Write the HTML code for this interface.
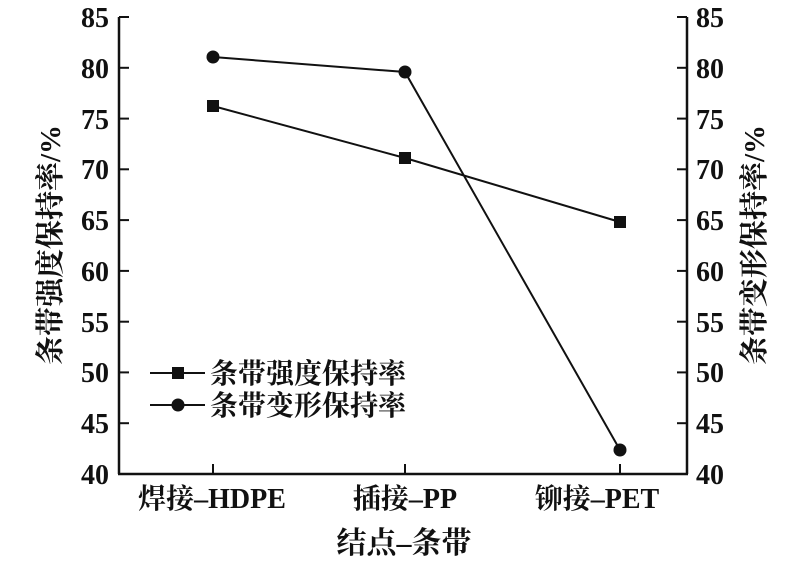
<!DOCTYPE html>
<html><head><meta charset="utf-8"><style>
body{margin:0;background:#fff}
svg text{font-family:"Liberation Serif","Noto Serif CJK SC",serif;fill:#111}
</style></head><body>
<svg width="792" height="566" viewBox="0 0 792 566" xmlns="http://www.w3.org/2000/svg">
<g stroke="#111" stroke-width="2.5" fill="none">
<line x1="119" y1="17" x2="119" y2="474"/>
<line x1="687" y1="17" x2="687" y2="474"/>
<line x1="118" y1="474" x2="688" y2="474"/>
</g>
<g stroke="#111" stroke-width="2">
<line x1="119" y1="17.0" x2="129" y2="17.0"/><line x1="677" y1="17.0" x2="687" y2="17.0"/>
<line x1="119" y1="67.8" x2="129" y2="67.8"/><line x1="677" y1="67.8" x2="687" y2="67.8"/>
<line x1="119" y1="118.6" x2="129" y2="118.6"/><line x1="677" y1="118.6" x2="687" y2="118.6"/>
<line x1="119" y1="169.3" x2="129" y2="169.3"/><line x1="677" y1="169.3" x2="687" y2="169.3"/>
<line x1="119" y1="220.1" x2="129" y2="220.1"/><line x1="677" y1="220.1" x2="687" y2="220.1"/>
<line x1="119" y1="270.9" x2="129" y2="270.9"/><line x1="677" y1="270.9" x2="687" y2="270.9"/>
<line x1="119" y1="321.7" x2="129" y2="321.7"/><line x1="677" y1="321.7" x2="687" y2="321.7"/>
<line x1="119" y1="372.4" x2="129" y2="372.4"/><line x1="677" y1="372.4" x2="687" y2="372.4"/>
<line x1="119" y1="423.2" x2="129" y2="423.2"/><line x1="677" y1="423.2" x2="687" y2="423.2"/>
<line x1="213" y1="464" x2="213" y2="474"/>
<line x1="405" y1="464" x2="405" y2="474"/>
<line x1="620" y1="464" x2="620" y2="474"/>
</g>
<g font-size="28" font-weight="bold" text-anchor="end">
<text x="109" y="27">85</text><text x="109" y="78">80</text><text x="109" y="129">75</text><text x="109" y="179">70</text><text x="109" y="230">65</text><text x="109" y="281">60</text><text x="109" y="332">55</text><text x="109" y="382">50</text><text x="109" y="433">45</text><text x="109" y="484">40</text>
</g>
<g font-size="28" font-weight="bold" text-anchor="start">
<text x="696" y="27">85</text><text x="696" y="78">80</text><text x="696" y="129">75</text><text x="696" y="179">70</text><text x="696" y="230">65</text><text x="696" y="281">60</text><text x="696" y="332">55</text><text x="696" y="382">50</text><text x="696" y="433">45</text><text x="696" y="484">40</text>
</g>
<g font-size="28" font-weight="bold" text-anchor="middle">
<text x="212" y="508">焊接–HDPE</text>
<text x="405" y="508">插接–PP</text>
<text x="597" y="508">铆接–PET</text>
<text x="404" y="553" font-size="30">结点–条带</text>
<text transform="translate(60,245) rotate(-90)" font-size="29">条带强度保持率/%</text>
<text transform="translate(764,245) rotate(-90)" font-size="29">条带变形保持率/%</text>
</g>
<g stroke="#111" stroke-width="2" fill="none">
<polyline points="213,106 405,158 620,222"/>
<polyline points="213,57 405,72 620,450"/>
<line x1="150" y1="373" x2="205" y2="373"/>
<line x1="150" y1="405" x2="205" y2="405"/>
</g>
<g fill="#111">
<rect x="207" y="100" width="12" height="12"/><rect x="399" y="152" width="12" height="12"/><rect x="614" y="216" width="12" height="12"/>
<circle cx="213" cy="57" r="6.5"/><circle cx="405" cy="72" r="6.5"/><circle cx="620" cy="450" r="6.5"/>
<rect x="172" y="367" width="12" height="12"/><circle cx="178" cy="405" r="6.5"/>
</g>
<g font-size="28" font-weight="bold">
<text x="210" y="383">条带强度保持率</text>
<text x="210" y="415">条带变形保持率</text>
</g>
</svg>
</body></html>
